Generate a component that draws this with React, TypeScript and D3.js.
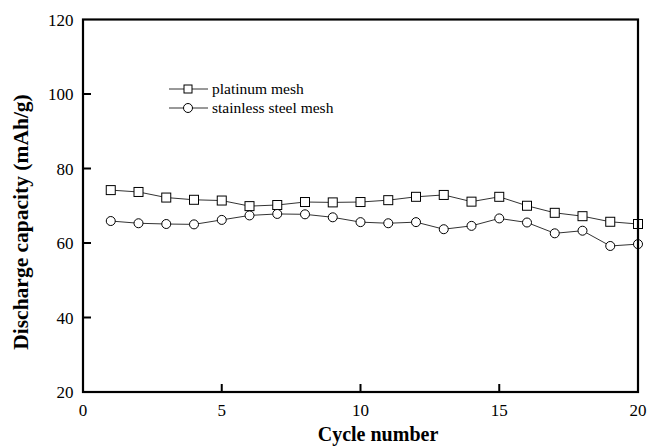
import React from "react";
import * as d3 from "d3";

const cycles = [1, 2, 3, 4, 5, 6, 7, 8, 9, 10, 11, 12, 13, 14, 15, 16, 17, 18, 19, 20];
const platinum = [74.2, 73.7, 72.2, 71.6, 71.4, 69.9, 70.2, 71.0, 70.9, 71.0, 71.5, 72.4, 72.9, 71.1, 72.4, 70.0, 68.1, 67.2, 65.7, 65.1];
const stainless = [65.9, 65.3, 65.1, 65.0, 66.2, 67.4, 67.8, 67.7, 66.9, 65.6, 65.3, 65.6, 63.7, 64.6, 66.6, 65.5, 62.6, 63.3, 59.2, 59.7];
const xTicks = [0, 5, 10, 15, 20];
const yTicks = [20, 40, 60, 80, 100, 120];

const W = 650;
const H = 446;
const left = 83;
const right = 638;
const top = 19.5;
const bottom = 392;
const font = "'Liberation Serif', 'Times New Roman', serif";

export default function App() {
  const x = d3.scaleLinear().domain([0, 20]).range([left, right]);
  const y = d3.scaleLinear().domain([20, 120]).range([bottom, top]);
  const line = d3
    .line<number>()
    .x((_, i) => x(cycles[i]))
    .y((d) => y(d));

  const sq = 4.5;
  const r = 4.5;

  return (
    <svg width={W} height={H} style={{ position: "absolute", left: 0, top: 0, background: "#fff" }}>
      {/* series lines */}
      <path d={line(platinum) || ""} fill="none" stroke="#333" strokeWidth={1} />
      <path d={line(stainless) || ""} fill="none" stroke="#333" strokeWidth={1} />
      {platinum.map((v, i) => (
        <rect key={"p" + i} x={x(cycles[i]) - sq} y={y(v) - sq} width={sq * 2} height={sq * 2} fill="#fff" stroke="#000" strokeWidth={1} />
      ))}
      {stainless.map((v, i) => (
        <circle key={"s" + i} cx={x(cycles[i])} cy={y(v)} r={r} fill="#fff" stroke="#000" strokeWidth={1} />
      ))}

      {/* frame */}
      <rect x={left} y={top} width={right - left} height={bottom - top} fill="none" stroke="#000" strokeWidth={2.2} />

      {/* ticks */}
      {yTicks.slice(1, -1).map((t) => (
        <line key={"yt" + t} x1={left} x2={left + 8} y1={y(t)} y2={y(t)} stroke="#000" strokeWidth={2} />
      ))}
      {xTicks.slice(1, -1).map((t) => (
        <line key={"xt" + t} x1={x(t)} x2={x(t)} y1={bottom} y2={bottom - 8} stroke="#000" strokeWidth={2} />
      ))}

      {/* tick labels */}
      {yTicks.map((t) => (
        <text key={"yl" + t} x={left - 9.5} y={y(t) + 6} textAnchor="end" fontFamily={font} fontSize={17} fill="#000">
          {t}
        </text>
      ))}
      {xTicks.map((t) => (
        <text key={"xl" + t} x={x(t)} y={415.5} textAnchor="middle" fontFamily={font} fontSize={17} fill="#000">
          {t}
        </text>
      ))}

      {/* axis titles */}
      <text x={378} y={441} textAnchor="middle" fontFamily={font} fontSize={20} fontWeight="bold" fill="#000">
        Cycle number
      </text>
      <text
        transform={`translate(28, 222) rotate(-90)`}
        textAnchor="middle"
        fontFamily={font}
        fontSize={21.5}
        fontWeight="bold"
        fill="#000"
      >
        Discharge capacity (mAh/g)
      </text>

      {/* legend */}
      <g>
        <line x1={169} x2={208} y1={89} y2={89} stroke="#333" strokeWidth={1} />
        <rect x={188 - 4} y={89 - 4} width={8} height={8} fill="#fff" stroke="#000" strokeWidth={1} />
        <text x={212} y={94} fontFamily={font} fontSize={15.5} fill="#000">
          platinum mesh
        </text>
        <line x1={169} x2={208} y1={108} y2={108} stroke="#333" strokeWidth={1} />
        <circle cx={188} cy={108} r={4.5} fill="#fff" stroke="#000" strokeWidth={1} />
        <text x={212} y={113} fontFamily={font} fontSize={15.5} fill="#000">
          stainless steel mesh
        </text>
      </g>
    </svg>
  );
}
